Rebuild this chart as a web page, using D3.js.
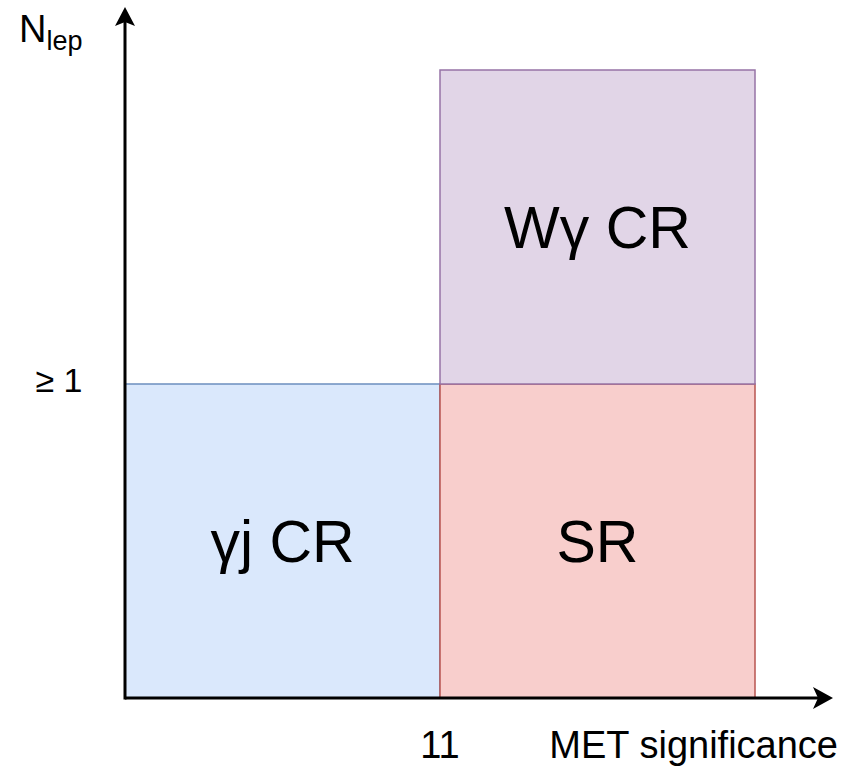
<!DOCTYPE html>
<html>
<head>
<meta charset="utf-8">
<script src="https://cdn.jsdelivr.net/npm/d3@7"></script>
<style>
  html, body { margin: 0; padding: 0; background: #fff; }
  text { font-family: "Liberation Sans", Arial, sans-serif; fill: #000; }
</style>
</head>
<body>
<svg id="chart" width="845" height="768"></svg>
<script>
// ---- data ----
const regions   = ["γj CR", "SR", "Wγ CR"];
const metLow    = [0, 11, 11];
const metHigh   = [11, 22, 22];
const nlepLow   = [0, 0, 1];
const nlepHigh  = [1, 1, 2];
const xTicks    = [11];
const xTickLabels = ["11"];
const yTicks    = [1];
const yTickLabels = ["≥ 1"];
const xTitle = "MET significance";
const yTitleMain = "N";
const yTitleSub = "lep";

// ---- styles ----
const fills   = { "γj CR": "#dae8fc", "SR": "#f8cecc", "Wγ CR": "#e1d5e7" };
const strokes = { "γj CR": "#6c8ebf", "SR": "#b85450", "Wγ CR": "#9673a6" };

const svg = d3.select("#chart");
const x = d3.scaleLinear().domain([0, 22]).range([125, 755]);
const y = d3.scaleLinear().domain([0, 2]).range([698, 70]);

const data = regions.map((r, i) => ({ r, x0: metLow[i], x1: metHigh[i], y0: nlepLow[i], y1: nlepHigh[i] }));

// rectangles
svg.append("g").selectAll("rect").data(data).join("rect")
  .attr("x", d => x(d.x0))
  .attr("y", d => y(d.y1))
  .attr("width", d => x(d.x1) - x(d.x0))
  .attr("height", d => y(d.y0) - y(d.y1))
  .attr("fill", d => fills[d.r])
  .attr("stroke", d => strokes[d.r])
  .attr("stroke-width", 1.5);

// region labels
svg.append("g").selectAll("text").data(data).join("text")
  .attr("x", d => (x(d.x0) + x(d.x1)) / 2)
  .attr("y", d => (y(d.y0) + y(d.y1)) / 2 + 21)
  .attr("text-anchor", "middle")
  .attr("font-size", 59)
  .text(d => d.r);

// axes
const x0px = x(0), y0px = y(0);
const xEnd = 833, yEnd = 7;
svg.append("line").attr("x1", x0px).attr("y1", y0px).attr("x2", xEnd - 8).attr("y2", y0px)
  .attr("stroke", "#000").attr("stroke-width", 3);
svg.append("line").attr("x1", x0px).attr("y1", y0px + 1.5).attr("x2", x0px).attr("y2", yEnd + 8)
  .attr("stroke", "#000").attr("stroke-width", 3);
// arrowheads
svg.append("path")
  .attr("d", `M${xEnd},${y0px} L${xEnd - 20},${y0px - 11} L${xEnd - 15},${y0px} L${xEnd - 20},${y0px + 11} Z`)
  .attr("fill", "#000");
svg.append("path")
  .attr("d", `M${x0px},${yEnd} L${x0px - 10},${yEnd + 19} L${x0px},${yEnd + 15} L${x0px + 10},${yEnd + 19} Z`)
  .attr("fill", "#000");

// tick labels
svg.append("g").selectAll("text").data(xTicks).join("text")
  .attr("x", d => x(d)).attr("y", 758)
  .attr("text-anchor", "middle").attr("font-size", 38)
  .text((d, i) => xTickLabels[i]);
svg.append("g").selectAll("text").data(yTicks).join("text")
  .attr("x", 59).attr("y", d => y(d) + 8)
  .attr("text-anchor", "middle").attr("font-size", 34)
  .text((d, i) => yTickLabels[i]);

// axis titles
svg.append("text").attr("x", 838).attr("y", 758).attr("text-anchor", "end")
  .attr("font-size", 38).text(xTitle);
const yt = svg.append("text").attr("x", 19).attr("y", 42).attr("font-size", 38);
yt.append("tspan").text(yTitleMain);
yt.append("tspan").attr("font-size", 27).attr("dy", 8).text(yTitleSub);
</script>
</body>
</html>
